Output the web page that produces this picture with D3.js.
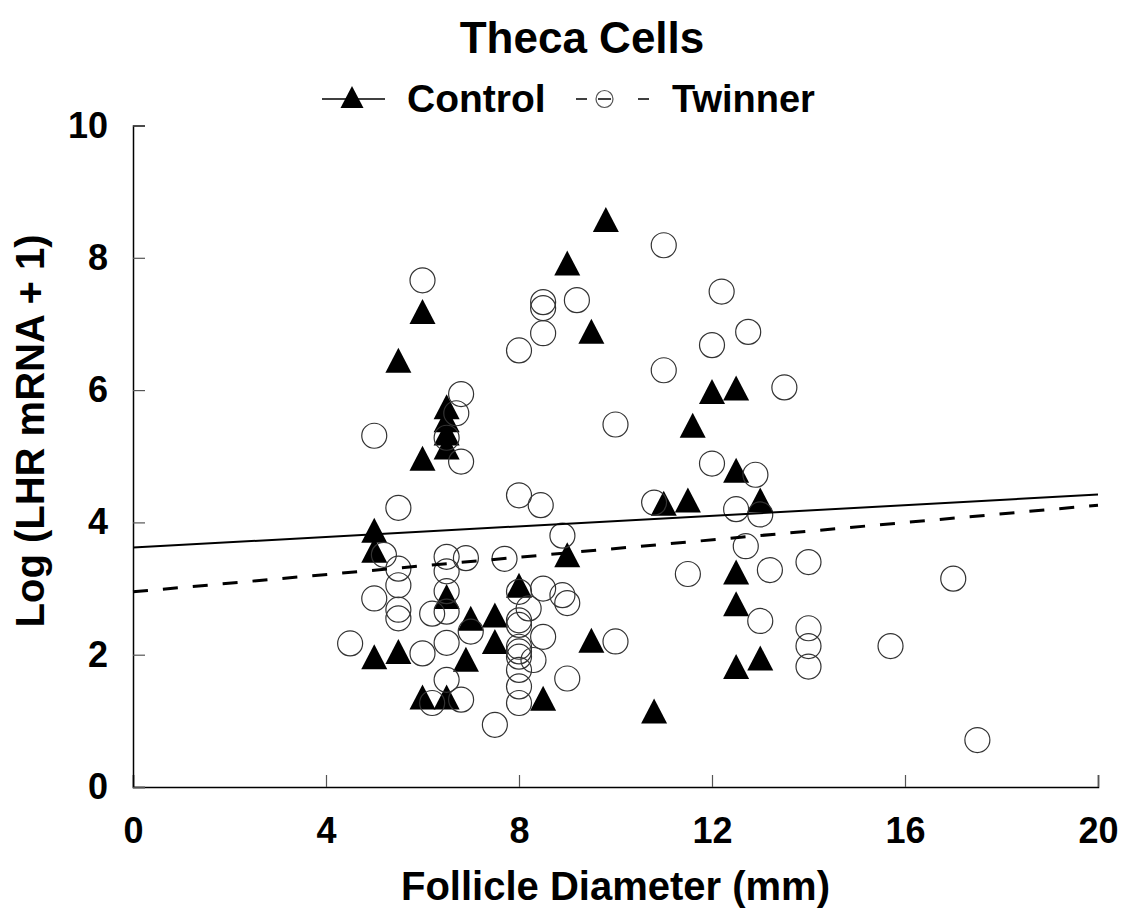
<!DOCTYPE html>
<html><head><meta charset="utf-8">
<script src="https://cdn.jsdelivr.net/npm/d3@7/dist/d3.min.js"></script>
<style>
html,body{margin:0;padding:0;background:#fff;}
text{font-family:"Liberation Sans",Arial,sans-serif;font-weight:bold;fill:#000;}
</style></head>
<body>
<svg id="chart" width="1128" height="919"></svg>
<script>
const title = "Theca Cells";
const xTitle = "Follicle Diameter (mm)";
const yTitle = "Log (LHR mRNA + 1)";
const seriesNames = ["Control", "Twinner"];
const xTicks = [0, 4, 8, 12, 16, 20];
const yTicks = [0, 2, 4, 6, 8, 10];

const controlX = [5.0,5.0,5.0,5.5,5.5,6.0,6.0,6.0,6.5,6.5,6.5,6.5,6.5,6.5,7.0,6.9,7.5,7.5,8.0,8.5,9.0,9.0,9.5,9.5,9.8,10.8,11.0,11.5,11.6,12.0,12.5,12.5,12.5,12.5,12.5,13.0,13.0];
const controlY = [3.88,3.58,1.97,6.45,2.05,7.19,4.97,1.36,5.75,5.55,5.35,5.14,2.88,1.36,2.55,1.93,2.60,2.20,3.05,1.34,7.92,3.51,6.89,2.22,8.58,1.15,4.29,4.34,5.47,5.98,6.03,4.79,3.25,2.77,1.82,4.34,1.95];

const twinnerX = [4.5,5.0,5.0,5.2,5.5,5.5,5.5,5.5,5.5,6.0,6.0,6.2,6.2,6.5,6.5,6.5,6.5,6.5,6.5,6.5,6.8,6.7,6.8,6.8,6.9,7.0,7.5,7.7,8.0,8.0,8.0,8.0,8.0,8.0,8.0,8.0,8.0,8.0,8.0,8.2,8.3,8.45,8.5,8.5,8.5,8.5,8.5,8.9,8.9,9.0,9.0,9.2,10.0,10.0,10.8,11.0,11.0,11.5,12.0,12.0,12.2,12.5,12.7,12.75,12.9,13.0,13.0,13.2,13.5,14.0,14.0,14.0,14.0,15.7,17.0,17.5];
const twinnerY = [2.17,5.31,2.85,3.51,4.22,3.30,3.05,2.68,2.55,7.66,2.02,2.62,1.27,3.48,3.26,2.96,2.65,2.18,1.62,5.28,1.32,5.65,5.94,4.92,3.46,2.35,0.94,3.45,6.60,4.41,2.95,2.52,2.45,2.12,2.05,1.97,1.77,1.52,1.27,2.70,1.92,4.26,7.33,7.24,6.86,3.00,2.27,2.90,3.80,2.78,1.64,7.36,5.48,2.20,4.30,8.19,6.30,3.22,6.68,4.89,7.49,4.20,3.64,6.88,4.72,4.12,2.51,3.28,6.04,3.40,2.40,2.13,1.82,2.13,3.15,0.71];

const fitX = [0, 20];
const controlFit = [3.62, 4.42];
const twinnerFit = [2.95, 4.26];

const svg = d3.select("#chart");
const x = d3.scaleLinear().domain([0, 20]).range([133, 1098]);
const y = d3.scaleLinear().domain([0, 10]).range([787, 125.5]);

// Axes
const xAxis = d3.axisBottom(x).tickValues(xTicks).tickSize(-12).tickPadding(30).tickFormat(d3.format("d"));
const gx = svg.append("g").attr("transform", `translate(0,${y(0)})`).call(xAxis);
gx.select(".domain").attr("stroke", "#000").attr("stroke-width", 1.5);
gx.selectAll(".tick line").attr("stroke", "#555").attr("stroke-width", 1.2);
gx.selectAll(".tick text").style("font-size", "36px").attr("fill", "#000").attr("dy", "0.72em");

const yAxis = d3.axisLeft(y).tickValues(yTicks).tickSize(-12).tickPadding(25).tickFormat(d3.format("d"));
const gy = svg.append("g").attr("transform", `translate(${x(0)},0)`).call(yAxis);
gy.select(".domain").attr("stroke", "#000").attr("stroke-width", 1.5);
gy.selectAll(".tick line").attr("stroke", "#555").attr("stroke-width", 1.2);
gy.selectAll(".tick text").style("font-size", "36px").attr("fill", "#000");

// markers
const tri = (cx, cy, w, h) => `M${cx},${cy - h/2}L${cx + w/2},${cy + h/2}L${cx - w/2},${cy + h/2}Z`;
svg.append("g").selectAll("path").data(controlX.map((d,i)=>[d, controlY[i]])).join("path")
  .attr("d", d => tri(x(d[0]), y(d[1]), 26, 25)).attr("fill", "#000");
svg.append("g").selectAll("circle").data(twinnerX.map((d,i)=>[d, twinnerY[i]])).join("circle")
  .attr("cx", d => x(d[0])).attr("cy", d => y(d[1])).attr("r", 12.5)
  .attr("fill", "none").attr("stroke", "#333").attr("stroke-width", 1.2);

// fit lines
const line = d3.line().x(d => x(d[0])).y(d => y(d[1]));
svg.append("path").datum(fitX.map((d,i)=>[d, controlFit[i]])).attr("d", line)
  .attr("stroke", "#000").attr("stroke-width", 2).attr("fill", "none");
svg.append("path").datum(fitX.map((d,i)=>[d, twinnerFit[i]])).attr("d", line)
  .attr("stroke", "#000").attr("stroke-width", 3).attr("stroke-dasharray", "15,15").attr("fill", "none");

// titles
svg.append("text").attr("x", 582).attr("y", 53).attr("text-anchor", "middle").style("font-size", "44px").text(title);
svg.append("text").attr("x", 615.5).attr("y", 900).attr("text-anchor", "middle").style("font-size", "40px").text(xTitle);
svg.append("text").attr("transform", "translate(44,431) rotate(-90)").attr("text-anchor", "middle").style("font-size", "40px").text(yTitle);

// legend
const lg = svg.append("g");
lg.append("line").attr("x1", 322).attr("x2", 385).attr("y1", 99).attr("y2", 99).attr("stroke", "#000").attr("stroke-width", 1.5);
lg.append("path").attr("d", tri(352, 97, 23, 22)).attr("fill", "#000");
lg.append("text").attr("x", 407).attr("y", 112).style("font-size", "39px").text(seriesNames[0]);
[[576,587],[598,611],[638,649]].forEach(s => lg.append("line").attr("x1", s[0]).attr("x2", s[1]).attr("y1", 99).attr("y2", 99).attr("stroke", "#000").attr("stroke-width", 1.5));
lg.append("circle").attr("cx", 604.5).attr("cy", 99).attr("r", 8.5).attr("fill", "none").attr("stroke", "#555").attr("stroke-width", 1.2);
lg.append("text").attr("x", 672).attr("y", 112).style("font-size", "38px").text(seriesNames[1]);
</script>
</body></html>
